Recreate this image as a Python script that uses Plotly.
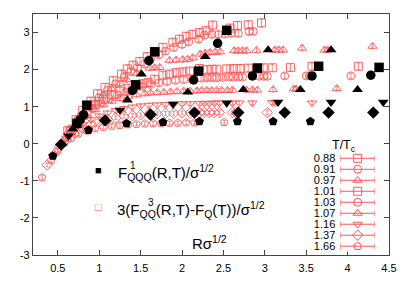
import plotly.graph_objects as go

# ---------------- data ----------------
T_LABELS = ["0.88", "0.91", "0.97", "1.01", "1.03", "1.07", "1.16", "1.37", "1.66"]
X_TICKS = [0.5, 1, 1.5, 2, 2.5, 3, 3.5, 4, 4.5]
X_TICKTEXT = ["0.5", "1", "1.5", "2", "2.5", "3", "3.5", "4", "4.5"]
Y_TICKS = [-3, -2, -1, 0, 1, 2, 3]
Y_TICKTEXT = ["-3", "-2", "-1", "0", "1", "2", "3"]

# F^1_QQQ (black filled)
f1_x_088 = [0.85, 1.67, 2.54]
f1_y_088 = [1.04, 2.48, 3.06]
f1_x_091 = [0.81, 1.60, 2.43]
f1_y_091 = [0.78, 2.24, 2.71]
f1_x_097 = [0.72, 1.51, 2.28, 3.04, 3.80]
f1_y_097 = [0.48, 1.88, 2.35, 2.53, 2.53]
f1_x_101 = [0.73, 1.44, 2.20, 2.91, 3.65, 4.38]
f1_y_101 = [0.55, 1.59, 1.96, 2.04, 2.09, 2.06]
f1_x_103 = [0.77, 1.40, 2.14, 2.85, 3.57, 4.28]
f1_y_103 = [0.65, 1.44, 1.72, 1.83, 1.83, 1.85]
f1_x_107 = [0.68, 1.34, 2.07, 2.74, 3.43, 4.12]
f1_y_107 = [0.40, 1.18, 1.39, 1.46, 1.46, 1.46]
f1_x_116 = [0.63, 1.25, 1.89, 2.54, 3.16, 3.80, 4.43]
f1_y_116 = [0.21, 0.91, 1.07, 1.10, 1.12, 1.12, 1.12]
f1_x_137 = [0.54, 1.07, 1.62, 2.15, 2.68, 3.24, 3.77, 4.31]
f1_y_137 = [-0.02, 0.63, 0.79, 0.84, 0.84, 0.84, 0.84, 0.84]
f1_x_166 = [0.44, 0.87, 1.33, 1.77, 2.21, 2.67, 3.10, 3.55]
f1_y_166 = [-0.33, 0.37, 0.55, 0.58, 0.60, 0.60, 0.60, 0.60]

# 3(F^3_QQ - F_Q) (red open, with error bars)
f3_x_088 = [0.62, 0.72, 0.80, 0.90, 0.98, 1.07, 1.17, 1.27, 1.34, 1.41, 1.49, 1.58, 1.68, 1.77,
            1.89, 1.97, 2.05, 2.13, 2.21, 2.29, 2.37, 2.58, 2.67, 2.80, 2.96]
f3_y_088 = [0.35, 0.65, 0.90, 1.15, 1.35, 1.52, 1.70, 1.88, 2.02, 2.12, 2.22, 2.35, 2.48, 2.60,
            2.74, 2.82, 2.90, 2.95, 3.00, 3.05, 3.20, 3.12, 3.19, 3.21, 3.26]
f3_x_091 = [0.65, 0.78, 0.88, 1.00, 1.10, 1.20, 1.30, 1.38, 1.46, 1.55, 1.62, 1.72, 1.80, 1.90,
            2.00, 2.08, 2.20, 2.27, 2.36, 2.44, 2.52, 2.60, 2.68, 2.81, 2.86]
f3_y_091 = [0.40, 0.75, 1.00, 1.25, 1.45, 1.62, 1.80, 1.95, 2.05, 2.15, 2.28, 2.40, 2.50, 2.60,
            2.68, 2.75, 2.82, 2.93, 2.95, 2.95, 2.96, 2.98, 2.98, 3.03, 3.03]
f3_x_097 = [0.70, 0.82, 0.95, 1.05, 1.15, 1.25, 1.33, 1.45, 1.61, 1.67, 1.73, 1.85, 1.93, 2.01,
            2.07, 2.13, 2.22, 2.28, 2.34, 2.40, 2.46, 2.63, 2.68, 2.73, 2.78, 2.90, 3.12, 3.17,
            3.22, 3.45, 3.72, 3.76, 4.30]
f3_y_097 = [0.50, 0.80, 1.10, 1.30, 1.48, 1.62, 1.73, 1.90, 2.04, 2.05, 2.06, 2.25, 2.26, 2.27,
            2.28, 2.32, 2.42, 2.45, 2.46, 2.47, 2.48, 2.51, 2.51, 2.51, 2.51, 2.52, 2.53, 2.53,
            2.53, 2.58, 2.53, 2.53, 2.63]
f3_x_101 = [0.65, 0.75, 0.85, 0.95, 1.05, 1.15, 1.25, 1.35, 1.45, 1.52, 1.59, 1.67, 1.77, 1.85,
            1.93, 2.01, 2.09, 2.21, 2.30, 2.36, 2.42, 2.54, 2.62, 2.70, 2.80, 2.91, 2.98, 3.09,
            3.31, 3.57, 4.13]
f3_y_101 = [0.35, 0.60, 0.85, 1.05, 1.20, 1.32, 1.42, 1.50, 1.56, 1.62, 1.65, 1.74, 1.85, 1.88,
            1.92, 1.94, 1.96, 2.03, 2.00, 2.01, 2.01, 2.02, 2.03, 2.03, 2.04, 2.05, 2.05, 2.05,
            2.06, 2.09, 2.09]
f3_x_103 = [0.62, 0.72, 0.82, 0.92, 1.02, 1.12, 1.22, 1.32, 1.42, 1.52, 1.62, 1.72, 1.82, 1.92,
            2.02, 2.12, 2.23, 2.30, 2.36, 2.42, 2.49, 2.56, 2.62, 2.68, 2.73, 2.93, 2.99, 3.03,
            3.24, 3.50, 3.54, 4.04]
f3_y_103 = [0.25, 0.50, 0.75, 0.95, 1.10, 1.22, 1.32, 1.40, 1.48, 1.55, 1.60, 1.64, 1.68, 1.71,
            1.73, 1.75, 1.77, 1.78, 1.78, 1.78, 1.79, 1.80, 1.80, 1.80, 1.80, 1.82, 1.82, 1.82,
            1.83, 1.83, 1.83, 1.83]
f3_x_107 = [0.65, 0.75, 0.85, 0.95, 1.05, 1.15, 1.25, 1.35, 1.45, 1.55, 1.62, 1.70, 1.78, 1.86,
            1.94, 2.02, 2.10, 2.18, 2.24, 2.30, 2.36, 2.42, 2.48, 2.55, 2.61, 2.78, 2.85, 2.91,
            3.10, 3.35, 3.38, 3.87]
f3_y_107 = [0.30, 0.55, 0.75, 0.92, 1.05, 1.15, 1.22, 1.28, 1.32, 1.35, 1.37, 1.38, 1.39, 1.40,
            1.41, 1.42, 1.42, 1.43, 1.44, 1.44, 1.44, 1.44, 1.44, 1.44, 1.45, 1.45, 1.45, 1.45,
            1.46, 1.48, 1.48, 1.49]
f3_x_116 = [0.60, 0.70, 0.80, 0.90, 1.00, 1.10, 1.20, 1.30, 1.40, 1.50, 1.60, 1.70, 1.80, 1.90,
            2.00, 2.10, 2.21, 2.27, 2.33, 2.39, 2.45, 2.61, 2.69, 2.85, 3.09, 3.13, 3.57]
f3_y_116 = [0.15, 0.35, 0.52, 0.65, 0.75, 0.83, 0.90, 0.95, 0.99, 1.02, 1.04, 1.05, 1.06, 1.07,
            1.08, 1.08, 1.09, 1.09, 1.09, 1.10, 1.10, 1.10, 1.10, 1.10, 1.11, 1.11, 1.10]
f3_x_137 = [0.37, 0.45, 0.52, 0.60, 0.70, 0.80, 0.90, 1.00, 1.10, 1.20, 1.30, 1.40, 1.50, 1.60,
            1.70, 1.80, 1.90, 2.00, 2.10, 2.21, 2.27, 2.33, 2.39, 2.45, 2.61, 2.65, 3.03]
f3_y_137 = [-0.57, -0.30, -0.08, 0.10, 0.28, 0.42, 0.52, 0.60, 0.66, 0.70, 0.74, 0.76, 0.78, 0.80,
            0.81, 0.82, 0.82, 0.83, 0.83, 0.84, 0.84, 0.84, 0.84, 0.84, 0.84, 0.84, 0.84]
f3_x_166 = [0.31, 0.42, 0.50, 0.58, 0.66, 0.75, 0.85, 0.95, 1.05, 1.15, 1.25, 1.35, 1.45, 1.55,
            1.65, 1.75, 1.85, 1.95, 2.05, 2.15, 2.51]
f3_y_166 = [-0.91, -0.45, -0.18, 0.02, 0.15, 0.27, 0.35, 0.41, 0.45, 0.48, 0.50, 0.52, 0.53, 0.54,
            0.55, 0.55, 0.56, 0.56, 0.57, 0.57, 0.58]
F3_ERR = [0.10, 0.08, 0.07, 0.09, 0.07, 0.06, 0.05, 0.05, 0.05]

# ---------------- styling ----------------
SYMBOLS = ["square", "circle", "triangle-up", "square", "circle", "triangle-up",
           "triangle-down", "diamond", "pentagon"]
RED = "#ff5555"
BLACK = "#000000"
AXIS = "#444444"
FONT = "Liberation Sans, Arial, sans-serif"

f1_x = [f1_x_088, f1_x_091, f1_x_097, f1_x_101, f1_x_103, f1_x_107, f1_x_116, f1_x_137, f1_x_166]
f1_y = [f1_y_088, f1_y_091, f1_y_097, f1_y_101, f1_y_103, f1_y_107, f1_y_116, f1_y_137, f1_y_166]
f3_x = [f3_x_088, f3_x_091, f3_x_097, f3_x_101, f3_x_103, f3_x_107, f3_x_116, f3_x_137, f3_x_166]
f3_y = [f3_y_088, f3_y_091, f3_y_097, f3_y_101, f3_y_103, f3_y_107, f3_y_116, f3_y_137, f3_y_166]

fig = go.Figure()

# red open markers with error bars
for i, lab in enumerate(T_LABELS):
    fig.add_trace(go.Scatter(
        x=f3_x[i], y=f3_y[i], mode="markers", showlegend=False,
        marker=dict(symbol=SYMBOLS[i] + "-open", size=8, color=RED, line=dict(width=0.9, color=RED)),
        error_y=dict(type="constant", value=F3_ERR[i], color=RED, thickness=0.7, width=1.5),
    ))

# black filled markers
for i, lab in enumerate(T_LABELS):
    fig.add_trace(go.Scatter(
        x=f1_x[i], y=f1_y[i], mode="markers", showlegend=False,
        marker=dict(symbol=SYMBOLS[i], size=9.5, color=BLACK, line=dict(width=0)),
    ))

# key (right): one sample per temperature on a helper axis
for i, lab in enumerate(T_LABELS):
    fig.add_trace(go.Scatter(
        x=[0.5], y=[i], xaxis="x2", yaxis="y2", mode="markers", showlegend=False,
        marker=dict(symbol=SYMBOLS[i] + "-open", size=8, color=RED, line=dict(width=1, color=RED)),
        error_x=dict(type="constant", value=0.5, color=RED, thickness=1, width=3),
    ))

PW = 358.0
PH = 249.0
def px(xp):
    return (xp - 33) / PW
def py(yp):
    return (263 - yp) / PH

fig.update_layout(
    width=409, height=286,
    margin=dict(l=33, r=18, t=14, b=23),
    paper_bgcolor="white", plot_bgcolor="white",
    font=dict(family=FONT, size=11, color="#000"),
    xaxis=dict(range=[0.2, 4.5], tickvals=X_TICKS, ticktext=X_TICKTEXT,
               showgrid=False, zeroline=False, showline=True, linecolor=AXIS, linewidth=1.2,
               mirror="ticks", ticks="inside", ticklen=5, tickcolor=AXIS,
               ticklabelstandoff=3, tickfont=dict(size=11)),
    yaxis=dict(range=[-3, 3.5], tickvals=Y_TICKS, ticktext=Y_TICKTEXT,
               showgrid=False, zeroline=False, showline=True, linecolor=AXIS, linewidth=1.2,
               mirror="ticks", ticks="inside", ticklen=5, tickcolor=AXIS,
               tickfont=dict(size=11)),
    xaxis2=dict(domain=[px(342), px(377)], range=[0, 1], anchor="y2", visible=False,
                fixedrange=True),
    yaxis2=dict(domain=[py(259.6), py(157.4)], range=[8.5, -0.5], anchor="x2",
                tickvals=list(range(len(T_LABELS))), ticktext=T_LABELS,
                showgrid=False, zeroline=False, showline=False, ticks="",
                ticklabelstandoff=4, tickfont=dict(size=11), fixedrange=True),
)

ann = []
# left key
ann.append(dict(x=px(99), y=py(175), text="■", font=dict(size=11, color=BLACK)))
ann.append(dict(x=px(99), y=py(213), text="□", font=dict(size=11, color=RED)))
ann.append(dict(x=px(116), y=py(178), xanchor="left",
                text="F<sub>QQQ</sub>(R,T)/σ<sup>1/2</sup>", font=dict(size=15)))
ann.append(dict(x=px(129), y=py(170.5), xanchor="left", text="1", font=dict(size=10)))
ann.append(dict(x=px(115), y=py(216), xanchor="left",
                text="3(F<sub>QQ</sub>(R,T)-F<sub>Q</sub>(T))/σ<sup>1/2</sup>", font=dict(size=15)))
ann.append(dict(x=px(147), y=py(208.5), xanchor="left", text="3", font=dict(size=10)))
ann.append(dict(x=px(191), y=py(250), xanchor="left", text="Rσ<sup>1/2</sup>", font=dict(size=15)))
ann.append(dict(x=px(346), y=py(150), text="T/T<sub>c</sub>", font=dict(size=12.5)))
for a in ann:
    a.update(xref="paper", yref="paper", showarrow=False)
    a.setdefault("xanchor", "center")
    a.setdefault("yanchor", "middle")
fig.update_layout(annotations=ann)

fig.write_html("out.html", config={"displayModeBar": False},
               post_script="document.body.style.margin='0';")
